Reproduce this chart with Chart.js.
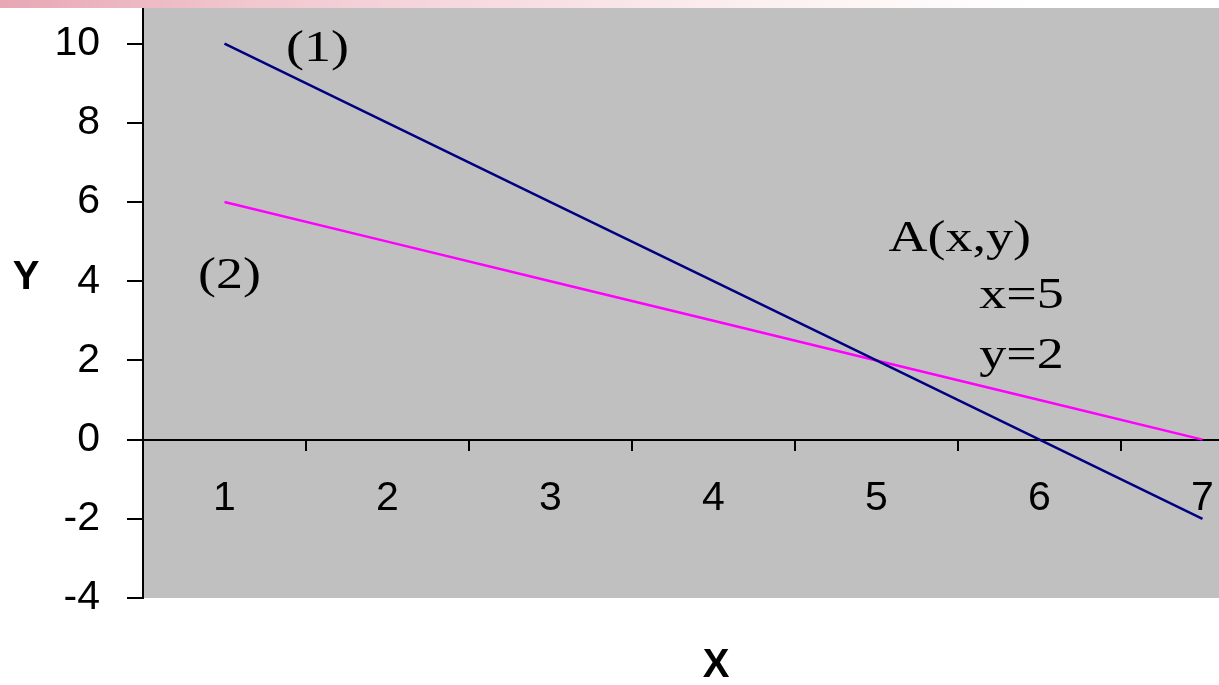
<!DOCTYPE html>
<html>
<head>
<meta charset="utf-8">
<script src="https://cdn.jsdelivr.net/npm/chart.js@4"></script>
<style>
html, body { margin:0; padding:0; background:#fff; overflow:hidden; }
#rahmen { position:relative; width:1219px; height:685px; overflow:hidden; }
#streifen { position:absolute; left:0; top:0; width:1219px; height:8px;
  background: linear-gradient(to right, #e7a7b5 0%, #f1c6cf 20%, #f6dbe0 40%, #fbeef0 60%, #fff 85%); }
canvas { position:absolute; left:0; top:0; }
</style>
</head>
<body>
<div id="rahmen">
<canvas id="Diagramm" width="1284" height="685"></canvas>
<div id="streifen"></div>
</div>
<script>
// Werte aus dem Bild
var xWerte = ['1', '2', '3', '4', '5', '6', '7'];
var linie1 = [10, 8, 6, 4, 2, 0, -2];
var linie2 = [6, 5, 4, 3, 2, 1, 0];
var yTicks = [-4, -2, 0, 2, 4, 6, 8, 10];
var yMin = -4, yMax = 10.9;

// Beschriftungen im Diagramm (x = Kategorie-Index, y = Wert, Grundlinie)
var notizText = ['(1)', '(2)', 'A(x,y)', 'x=5', 'y=2'];
var notizX = [0.57, 0.03, 4.51, 4.89, 4.89];
var notizY = [9.56, 3.83, 4.77, 3.33, 1.82];

const hintergrund = {
  id: 'hintergrund',
  beforeDraw(chart) {
    const ctx = chart.ctx, a = chart.chartArea;
    ctx.save();
    ctx.fillStyle = '#c0c0c0';
    ctx.fillRect(a.left, a.top, a.right - a.left, a.bottom - a.top);
    ctx.restore();
  },
  afterDraw(chart) {
    const ctx = chart.ctx, xs = chart.scales.x, ys = chart.scales.y;
    ctx.save();
    ctx.fillStyle = '#000';
    ctx.font = '45px "Liberation Serif", "Times New Roman", serif';
    ctx.textAlign = 'center';
    ctx.textBaseline = 'alphabetic';
    for (var i = 0; i < notizText.length; i++) {
      ctx.save();
      ctx.translate(xs.getPixelForValue(notizX[i]), ys.getPixelForValue(notizY[i]));
      ctx.scale(1.2, 1);
      ctx.fillText(notizText[i], 0, 0);
      ctx.restore();
    }
    // Achsentitel
    ctx.font = 'bold 40px "Liberation Sans", Arial, sans-serif';
    ctx.textBaseline = 'middle';
    ctx.fillText('Y', 26, 278);
    ctx.fillText('X', 716, 666);
    ctx.restore();
  }
};

const CHART = document.getElementById('Diagramm');
const achsenSchrift = { family: '"Liberation Sans", Arial, sans-serif', size: 41 };

let geradenDiagramm = new Chart(CHART, {
  type: 'line',
  data: {
    labels: xWerte,
    datasets: [{
      label: '(1)',
      data: linie1,
      borderColor: '#000080',
      borderWidth: 2.5,
      pointRadius: 0,
      fill: false,
      tension: 0
    }, {
      label: '(2)',
      data: linie2,
      borderColor: '#ff00ff',
      borderWidth: 2.5,
      pointRadius: 0,
      fill: false,
      tension: 0
    }]
  },
  options: {
    responsive: false,
    animation: false,
    devicePixelRatio: 1,
    layout: { padding: { top: 8, bottom: 87, left: 0, right: 0 } },
    plugins: { legend: { display: false }, tooltip: { enabled: false } },
    scales: {
      x: {
        type: 'category',
        position: { y: 0 },
        offset: true,
        grid: { drawOnChartArea: false, offset: true, tickLength: 10, color: '#000', lineWidth: 2 },
        border: { display: true, color: '#000', width: 2 },
        ticks: { color: '#000', font: achsenSchrift, padding: 24, maxRotation: 0, autoSkip: false },
        afterFit: function(s) { s.paddingLeft = 0; s.paddingRight = 0; }
      },
      y: {
        min: yMin,
        max: yMax,
        grid: { drawOnChartArea: false, tickLength: 16, color: '#000', lineWidth: 2 },
        border: { display: true, color: '#000', width: 2 },
        ticks: { color: '#000', font: achsenSchrift, padding: 27 },
        afterBuildTicks: function(s) { s.ticks = yTicks.map(function(v) { return { value: v }; }); },
        afterFit: function(s) { s.width = 143; s.paddingTop = 0; s.paddingBottom = 0; }
      }
    }
  },
  plugins: [hintergrund]
});
</script>
</body>
</html>
